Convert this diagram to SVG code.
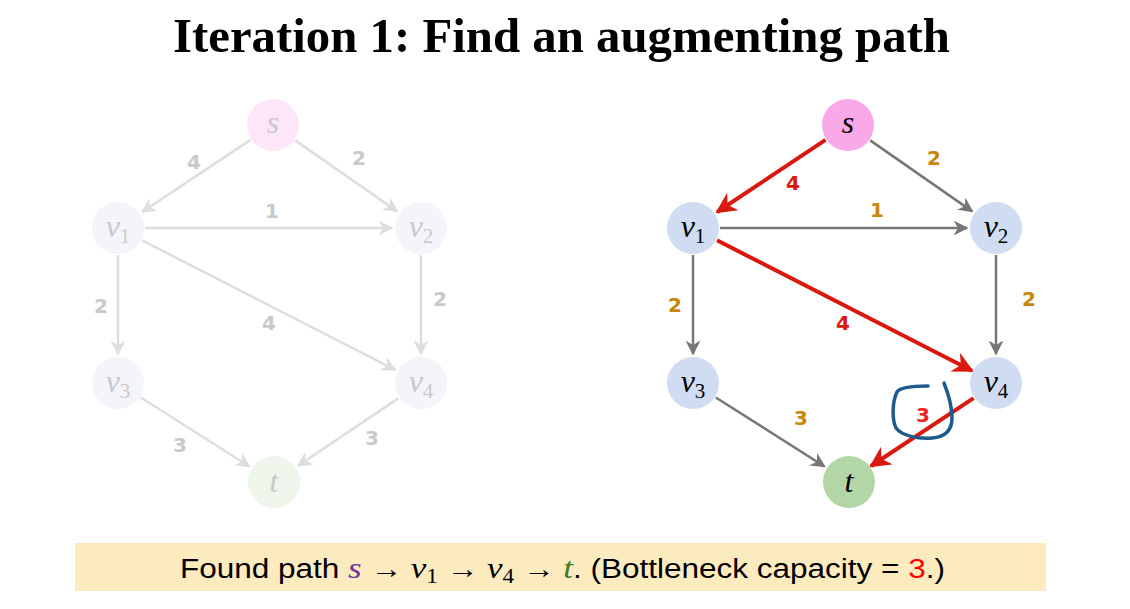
<svg xmlns="http://www.w3.org/2000/svg" width="1130" height="609" viewBox="0 0 1130 609">
<style>
.title{font-family:"Liberation Serif",serif;font-weight:bold;font-size:48px;fill:#000}
.nl{font-family:"Liberation Serif",serif;font-style:italic;font-size:32px;text-anchor:middle}
.sub{font-style:normal;font-size:21px}
.el{font-family:"DejaVu Sans",sans-serif;font-weight:bold;font-size:20px;text-anchor:middle}
.faint .el,.faint .nl{fill:#c9c9c9}
.eg{stroke:#777;stroke-width:2.5;fill:none}
.ef{stroke:#dedede;stroke-width:2.5;fill:none}
.er{stroke:#d9180f;stroke-width:4;fill:none}
.org{fill:#c8860a}
.red{fill:#d9180f}
.bt{font-family:"Liberation Sans",sans-serif;font-size:27px;fill:#000}
.m{font-family:"Liberation Serif",serif;font-style:italic}
</style>
<defs>
<marker id="ag" viewBox="0 0 10 10" refX="9" refY="5" markerUnits="userSpaceOnUse" markerWidth="15" markerHeight="15" orient="auto"><path d="M0,0 L10,5 L0,10 L3,5 z" fill="#777"/></marker>
<marker id="af" viewBox="0 0 10 10" refX="9" refY="5" markerUnits="userSpaceOnUse" markerWidth="15" markerHeight="15" orient="auto"><path d="M0,0 L10,5 L0,10 L3,5 z" fill="#dedede"/></marker>
<marker id="ar" viewBox="0 0 10 10" refX="9" refY="5" markerUnits="userSpaceOnUse" markerWidth="21" markerHeight="21" orient="auto"><path d="M0,0 L10,5 L0,10 L3,5 z" fill="#d9180f"/></marker>
</defs>
<rect width="1130" height="609" fill="#fff"/>
<text class="title" x="173" y="52" textLength="777" lengthAdjust="spacingAndGlyphs">Iteration 1: Find an augmenting path</text>

<!-- Left faint graph -->
<g class="faint" transform="translate(-575,0)">
<g id="connectors-left">
<line class="ef" x1="825.5" y1="139.9" x2="717.2" y2="212" marker-end="url(#af)"/>
<line class="ef" x1="870.2" y1="140.4" x2="972.2" y2="211.4" marker-end="url(#af)"/>
<line class="ef" x1="720" y1="228" x2="967" y2="228" marker-end="url(#af)"/>
<line class="ef" x1="717" y1="240.3" x2="970.2" y2="369.8" marker-end="url(#af)"/>
<line class="ef" x1="693" y1="255" x2="693" y2="354" marker-end="url(#af)"/>
<line class="ef" x1="996" y1="255" x2="996" y2="354" marker-end="url(#af)"/>
<line class="ef" x1="715.8" y1="397.5" x2="824.5" y2="466.5" marker-end="url(#af)"/>
<line class="ef" x1="973.6" y1="398.1" x2="873.1" y2="465.8" marker-end="url(#af)"/>
<text class="el" x="769" y="169">4</text>
<text class="el" x="934" y="165">2</text>
<text class="el" x="847" y="218">1</text>
<text class="el" x="676" y="313">2</text>
<text class="el" x="844" y="330">4</text>
<text class="el" x="1015" y="306">2</text>
<text class="el" x="755" y="452">3</text>
<text class="el" x="947" y="445">3</text>
</g>
<g id="ls"><circle cx="848" cy="125" r="26" fill="#fce6f7"/><text class="nl" x="848" y="133">s</text></g>
<g id="lv1"><circle cx="693" cy="228" r="26" fill="#f3f5fb"/><text class="nl" x="693" y="237">v<tspan class="sub" dy="6">1</tspan></text></g>
<g id="lv2"><circle cx="996" cy="228" r="26" fill="#f3f5fb"/><text class="nl" x="996" y="237">v<tspan class="sub" dy="6">2</tspan></text></g>
<g id="lv3"><circle cx="693" cy="383" r="26" fill="#f3f5fb"/><text class="nl" x="693" y="392">v<tspan class="sub" dy="6">3</tspan></text></g>
<g id="lv4"><circle cx="996" cy="383" r="26" fill="#f3f5fb"/><text class="nl" x="996" y="392">v<tspan class="sub" dy="6">4</tspan></text></g>
<g id="lt"><circle cx="849" cy="482" r="26" fill="#eef5ea"/><text class="nl" x="849" y="492">t</text></g>
</g>

<!-- Right graph -->
<g id="connectors">
<line class="eg" x1="870.2" y1="140.4" x2="972.2" y2="211.4" marker-end="url(#ag)"/>
<line class="eg" x1="720" y1="228" x2="967" y2="228" marker-end="url(#ag)"/>
<line class="eg" x1="693" y1="255" x2="693" y2="354" marker-end="url(#ag)"/>
<line class="eg" x1="996" y1="255" x2="996" y2="354" marker-end="url(#ag)"/>
<line class="eg" x1="715.8" y1="397.5" x2="824.5" y2="466.5" marker-end="url(#ag)"/>
<line class="er" x1="825.5" y1="139.9" x2="717.2" y2="212" marker-end="url(#ar)"/>
<line class="er" x1="717" y1="240.3" x2="972" y2="370.8" marker-end="url(#ar)"/>
<line class="er" x1="973.6" y1="398.1" x2="871" y2="466" marker-end="url(#ar)"/>
<text class="el red" x="793" y="190">4</text>
<text class="el org" x="934" y="165">2</text>
<text class="el org" x="877" y="217">1</text>
<text class="el org" x="675" y="312">2</text>
<text class="el red" x="843" y="330">4</text>
<text class="el org" x="1029" y="306">2</text>
<text class="el org" x="801" y="425">3</text>
<text class="el" x="923" y="422" fill="#ee2222">3</text>
<path d="M928,386 C915,386 900,387 897,392 C892,402 892,420 896,428 C902,436 918,439 932,438 C945,437 952,430 952,418 C952,405 948,393 944,383" fill="none" stroke="#1f5a8c" stroke-width="3.5" stroke-linecap="round" stroke-linejoin="round"/>
</g>
<g id="s"><circle cx="848" cy="125" r="26" fill="#f9a8e8"/><text class="nl" x="848" y="133">s</text></g>
<g id="v1"><circle cx="693" cy="228" r="26" fill="#cfdcf2"/><text class="nl" x="693" y="237">v<tspan class="sub" dy="6">1</tspan></text></g>
<g id="v2"><circle cx="996" cy="228" r="26" fill="#cfdcf2"/><text class="nl" x="996" y="237">v<tspan class="sub" dy="6">2</tspan></text></g>
<g id="v3"><circle cx="693" cy="383" r="26" fill="#cfdcf2"/><text class="nl" x="693" y="392">v<tspan class="sub" dy="6">3</tspan></text></g>
<g id="v4"><circle cx="996" cy="383" r="26" fill="#cfdcf2"/><text class="nl" x="996" y="392">v<tspan class="sub" dy="6">4</tspan></text></g>
<g id="t"><circle cx="849" cy="482" r="26" fill="#b3d6a6"/><text class="nl" x="849" y="492">t</text></g>

<!-- Bottom box -->
<g id="caption">
<rect x="75" y="543" width="971" height="48" fill="#fdebc0"/>
<text class="bt" x="180" y="578" textLength="765" lengthAdjust="spacingAndGlyphs">Found path <tspan class="m" fill="#7030a0" font-size="30">s</tspan> → <tspan class="m" font-size="30">v</tspan><tspan font-family="Liberation Serif" font-size="20" dy="5">1</tspan><tspan dy="-5"> → </tspan><tspan class="m" font-size="30">v</tspan><tspan font-family="Liberation Serif" font-size="20" dy="5">4</tspan><tspan dy="-5"> → </tspan><tspan class="m" fill="#3a7d22" font-size="30">t</tspan>.  (Bottleneck capacity = <tspan fill="#ff0000">3</tspan>.)</text>
</g>
</svg>
